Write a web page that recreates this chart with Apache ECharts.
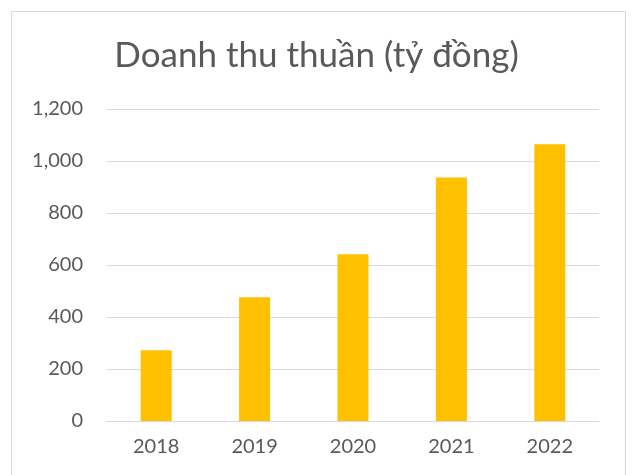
<!DOCTYPE html>
<html>
<head>
<meta charset="utf-8">
<script src="https://cdn.jsdelivr.net/npm/echarts@6/dist/echarts.min.js"></script>
<style>
html,body{margin:0;padding:0;background:#fff;width:633px;height:475px;overflow:hidden;}
#frame{position:absolute;left:11px;top:11px;width:615px;height:480px;border:1px solid #d9d9d9;box-sizing:border-box;}
#chart{position:absolute;left:0;top:0;width:633px;height:475px;}
</style>
</head>
<body>
<div id="frame"></div>
<div id="chart"></div>
<script>
const titleText = "Doanh thu thuần (tỷ đồng)";
const categories = ["2018", "2019", "2020", "2021", "2022"];
const revenue = [272, 476, 641, 937, 1064];
const yTicks = [0, 200, 400, 600, 800, 1000, 1200];

const chart = echarts.init(document.getElementById('chart'), null, {renderer: 'canvas'});
chart.setOption({
  animation: false,
  backgroundColor: 'transparent',
  title: {
    text: titleText,
    left: 'center',
    top: 33,
    padding: [5, 0, 5, 8],
    textStyle: {fontFamily: 'Lato', fontSize: 35, fontWeight: 'normal', color: '#595959'}
  },
  grid: {left: 107, right: 34, top: 109, bottom: 54},
  xAxis: {
    type: 'category',
    data: categories,
    axisLine: {show: true, lineStyle: {color: '#d9d9d9', width: 1}},
    axisTick: {show: false},
    axisLabel: {fontFamily: 'Lato', fontSize: 20, color: '#595959', margin: 16}
  },
  yAxis: {
    type: 'value',
    min: yTicks[0],
    max: yTicks[yTicks.length - 1],
    interval: 200,
    axisLine: {show: false},
    axisTick: {show: false},
    splitLine: {lineStyle: {color: '#d9d9d9', width: 1}},
    axisLabel: {
      fontFamily: 'Lato', fontSize: 20, color: '#595959', margin: 24,
      formatter: v => v.toLocaleString('en-US')
    }
  },
  series: [{
    type: 'bar',
    data: revenue,
    barWidth: 31,
    itemStyle: {color: '#ffc000'}
  }]
});
</script>
</body>
</html>
